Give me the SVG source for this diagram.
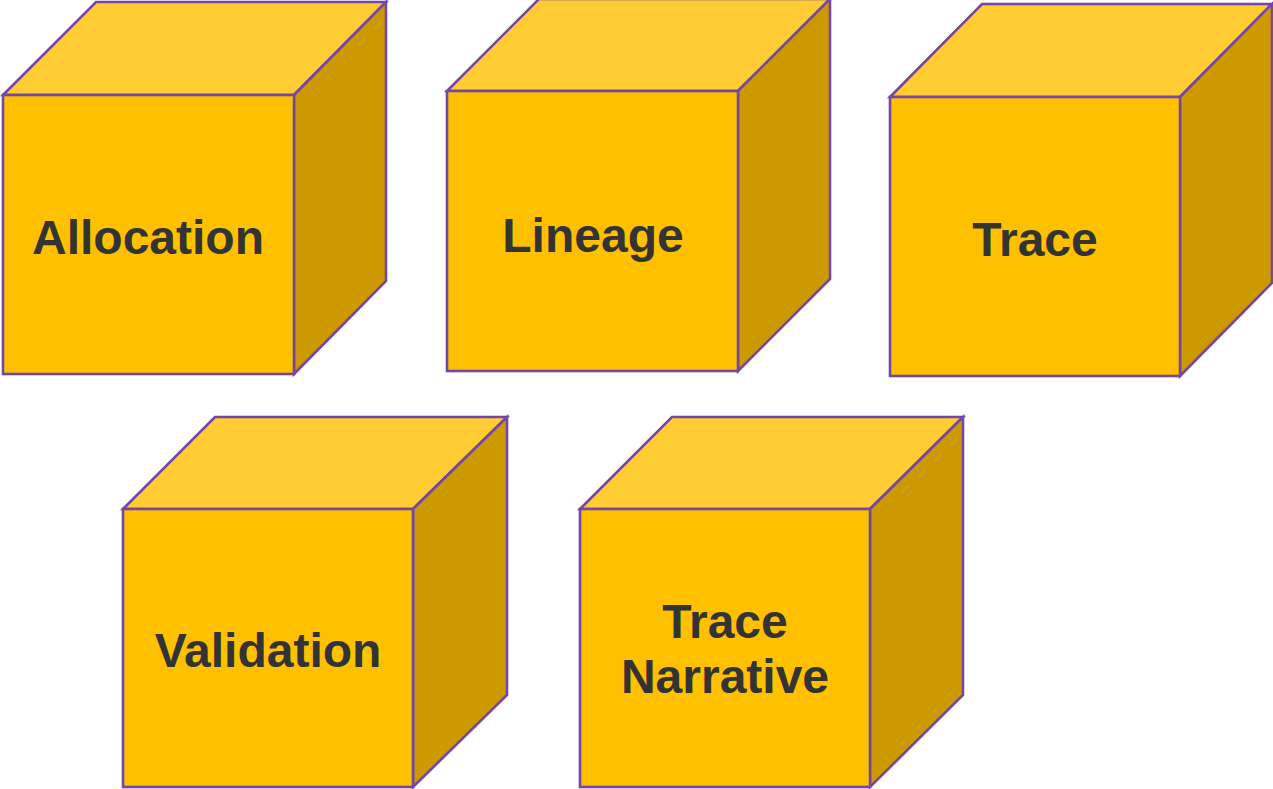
<svg xmlns="http://www.w3.org/2000/svg" width="1273" height="789" viewBox="0 0 1273 789">
  <style>
    .face { stroke: #7446a8; stroke-width: 2.6; stroke-linejoin: miter; stroke-miterlimit: 3; }
    .front { fill: #ffc000; }
    .top { fill: #ffcc33; }
    .side { fill: #cc9a00; }
    .label { font-family: "Liberation Sans", Arial, sans-serif; font-weight: bold; font-size: 48px; fill: #333333; text-anchor: middle; }
  </style>
  <rect width="1273" height="789" fill="#ffffff"/>

  <!-- Cube: Allocation (front 3,95 291x279, depth 93) -->
  <g id="allocation">
    <polygon class="face top" points="3,95 96,2 386,2 294,95"/>
    <polygon class="face side" points="294,95 386,2 386,281 294,374"/>
    <rect class="face front" x="3" y="95" width="291" height="279"/>
    <text class="label" x="148" y="254">Allocation</text>
  </g>

  <!-- Cube: Lineage -->
  <g id="lineage">
    <polygon class="face top" points="447,91 539,-1 830,-1 738,91"/>
    <polygon class="face side" points="738,91 830,-1 830,279 738,371"/>
    <rect class="face front" x="447" y="91" width="291" height="280"/>
    <text class="label" x="593" y="252">Lineage</text>
  </g>

  <!-- Cube: Trace -->
  <g id="trace">
    <polygon class="face top" points="890,97 982,4 1272,4 1180,97"/>
    <polygon class="face side" points="1180,97 1272,4 1272,283 1180,376"/>
    <rect class="face front" x="890" y="97" width="290" height="279"/>
    <text class="label" x="1035" y="256">Trace</text>
  </g>

  <!-- Cube: Validation -->
  <g id="validation">
    <polygon class="face top" points="123,509 215,417 507,417 413,509"/>
    <polygon class="face side" points="413,509 507,417 507,695 413,787"/>
    <rect class="face front" x="123" y="509" width="290" height="278"/>
    <text class="label" x="268" y="667">Validation</text>
  </g>

  <!-- Cube: Trace Narrative -->
  <g id="trace-narrative">
    <polygon class="face top" points="580,509 672,417 963,417 870,509"/>
    <polygon class="face side" points="870,509 963,417 963,695 870,787"/>
    <rect class="face front" x="580" y="509" width="290" height="278"/>
    <text class="label" x="725" y="638">Trace</text>
    <text class="label" x="725" y="693">Narrative</text>
  </g>

  <!-- no connectors between the cubes -->
  <g id="connectors"/>
</svg>
